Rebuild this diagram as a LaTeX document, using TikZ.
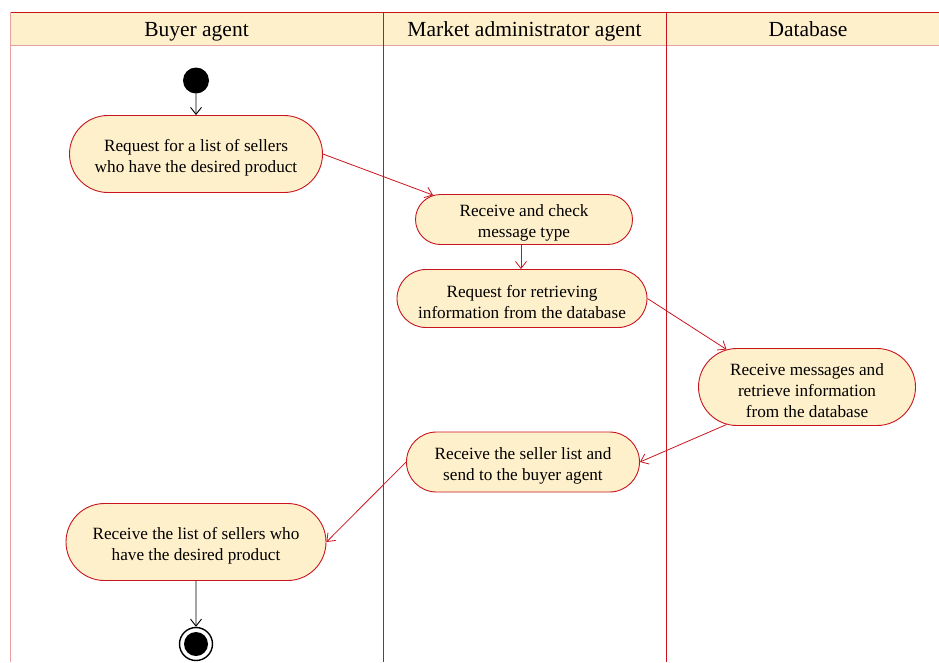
\documentclass[tikz,border=0pt]{standalone}
\usepackage{fontspec}
\setmainfont{Liberation Serif}
\usetikzlibrary{shapes.misc,arrows.meta,calc}
\definecolor{lred}{HTML}{C8141E}
\definecolor{lpink}{HTML}{E8A0A0}
\definecolor{lfill}{HTML}{FFF0CC}
\newcommand{\tup}{\rule{0pt}{19pt}}
\begin{document}
\begin{tikzpicture}[x=1pt,y=-1pt,
  act/.style={rounded rectangle, draw=lred, fill=lfill, line width=0.9pt, align=center,
    font=\fontsize{17.2}{21}\selectfont, inner sep=0pt},
  lanehead/.style={font=\fontsize{21.5}{25}\selectfont, inner sep=0pt, anchor=base},
  flow/.style={draw=lred, line width=0.8pt, -{Straight Barb[length=7pt,width=11pt]}},
  flowk/.style={draw=black, line width=0.9pt, -{Straight Barb[length=7pt,width=11pt]}},
  lane/.style={draw=lred, line width=1pt}]
\useasboundingbox (0,0) rectangle (939,662);
% swimlanes
\fill[lfill] (10,12) rectangle (939,45);
\draw[lane] (10,12) -- (939,12);
\draw[lpink, line width=0.8pt] (10,45) -- (939,45);
\draw[lpink, line width=0.8pt] (10,12) -- (10,662);
\draw[lane] (383,12) -- (383,662);
\draw[lane] (666,12) -- (666,662);
\node[lanehead] (h1) at (196.5,36) {Buyer agent};
\node[lanehead] (h2) at (524.5,36) {Market administrator agent};
\node[lanehead] (h3) at (808,36) {Database};
% nodes
\node[circle, fill=black, minimum size=26pt, inner sep=0pt] (start) at (196,80.5) {};
\node[act, minimum width=253pt, minimum height=77pt] (n1) at (196,154) {\tup Request for a list of sellers\\who have the desired product};
\node[act, minimum width=217pt, minimum height=50pt] (n2) at (524,219.5) {\tup Receive and check\\message type};
\node[act, minimum width=250pt, minimum height=58pt] (n3) at (522,298.5) {\tup Request for retrieving\\information from the database};
\node[act, minimum width=217pt, minimum height=77pt] (n4) at (807,387) {\tup Receive messages and\\retrieve information\\from the database};
\node[act, minimum width=233pt, minimum height=60pt] (n5) at (523,462) {\tup Receive the seller list and\\send to the buyer agent};
\node[act, minimum width=260pt, minimum height=77pt] (n6) at (196,542) {\tup Receive the list of sellers who\\have the desired product};
\node[circle, draw=black, line width=1.4pt, minimum size=33pt, inner sep=0pt] (end) at (196,644) {};
\node[circle, fill=black, minimum size=24pt, inner sep=0pt] (endin) at (end) {};
\coordinate (a2) at ([xshift=-3pt]n2.south);
\coordinate (a3) at (a2 |- n3.north);
% connectors
\draw[flowk] (start) -- (n1);
\draw[flow] (n1.east) -- (n2.165);
\draw[flow] (a2) -- (a3);
\draw[flow] (n3.east) -- (n4.155);
\draw[flow] (n4.205) -- (n5.east);
\draw[flow] (n5.west) -- (n6.east);
\draw[flowk] (n6) -- (end);
\end{tikzpicture}
\end{document}
